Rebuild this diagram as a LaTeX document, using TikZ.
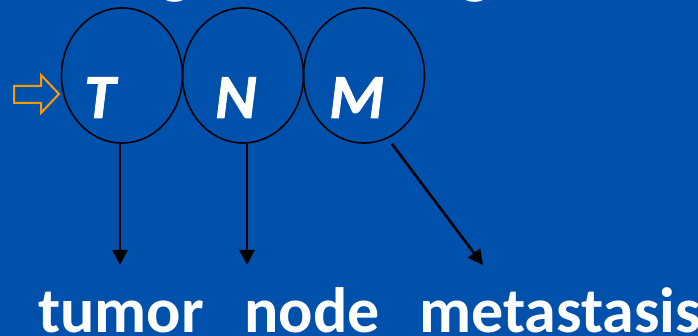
\documentclass[tikz,border=0pt]{standalone}
\usepackage{fontspec}
\setmainfont{Carlito}
\newfontface\tnmfont{Carlito Bold Italic}[FakeBold=1.2]
\usetikzlibrary{shapes.geometric,arrows.meta}
\definecolor{bgblue}{RGB}{0,81,172}
\definecolor{arrorange}{RGB}{255,153,0}
\tikzset{
  x=1pt,y=1pt,
  ring/.style={draw=black,line width=1.6pt,ellipse,minimum width=121pt,minimum height=135pt,inner sep=0pt},
  letter/.style={text=white,font=\fontsize{63}{63}\tnmfont,inner sep=0pt,anchor=base west},
  word/.style={text=white,font=\fontsize{64}{64}\selectfont\bfseries,inner sep=0pt,anchor=base west},
  pointer/.style={draw=black,line width=2.6pt,-{Triangle[length=15pt,width=15pt]}},
}
\begin{document}
\begin{tikzpicture}
\fill[bgblue] (0,0) rectangle (698,336);
\useasboundingbox (0,0) rectangle (698,336);
\begin{scope}
\clip (0,0) rectangle (698,336);
\node[word] (g1) at (160,344) {g};
\node[word] (g2) at (460,344) {g};
\end{scope}
% ellipses
\node[ring] (Te) at (122,260.5) {};
\node[ring] (Ne) at (243,260.5) {};
\node[ring] (Me) at (364,260.5) {};
% letters
\node[letter] (Tl) at (84,218) {T};
\node[letter] (Nl) at (215,218) {N};
\node[letter] (Ml) at (329,218) {M};
% orange pointer
\draw[arrorange,line width=2pt,line join=miter] (14,250) -- (41,250) -- (41,261) -- (59,242) -- (41,223) -- (41,233) -- (14,233) -- cycle;
% arrow targets
\coordinate (tT) at (120,71);
\coordinate (tN) at (247,71);
\coordinate (tM) at (483,71);
\coordinate (sM) at (392,192);
\draw[pointer] (Te.south -| tT) -- (tT);
\draw[pointer] (Ne.south -| tN) -- (tN);
\draw[pointer] (sM) -- (tM);
% words
\node[word] (w1) at (38,3) {tumor};
\node[word] (w2) at (244,3) {node};
\node[word] (w3) at (419,3) {metastasis};
\end{tikzpicture}
\end{document}
